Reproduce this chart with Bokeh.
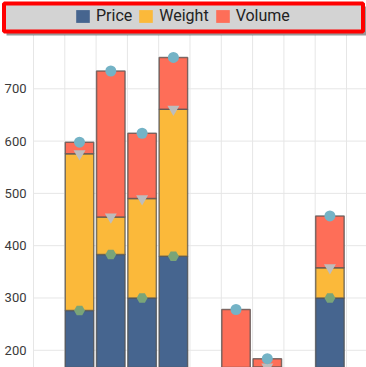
from bokeh.plotting import figure
from bokeh.models import (ColumnDataSource, Range1d, Legend, LegendItem, BoxAnnotation)
from bokeh.embed import file_html
from bokeh.resources import INLINE
from bokeh.core.properties import value

# ---- data ----
series = ["Price", "Weight", "Volume"]
slots = [1, 2, 3, 4, 6, 7, 9]
price = [276, 383, 300, 380, 80, 100, 300]
weight = [300, 72, 190, 281, 70, 68, 58]
volume = [22, 279, 125, 99, 128, 16, 99]
yticks = [200, 300, 400, 500, 600, 700]
xgrid = list(range(11))

colors = ["#46658f", "#fbb93a", "#fe6e58"]
FONT = "Roboto"

W, H = 366, 367
X0, X1 = -1.054, 10.639
Y0, Y1 = 167.1, 868.8
YTOP = 803  # top of the plotting area (below the legend strip)

xc = [s + 0.47 for s in slots]
top_p = price
top_w = [a + b for a, b in zip(price, weight)]
top_v = [a + b + c for a, b, c in zip(price, weight, volume)]
src = ColumnDataSource(dict(x=xc, Price=price, Weight=weight, Volume=volume,
                            tp=top_p, tw=top_w, tv=top_v))

p = figure(width=W, height=H, output_backend="svg", toolbar_location=None,
           x_range=Range1d(X0, X1), y_range=Range1d(Y0, Y1),
           x_axis_type=None, y_axis_type=None, min_border=0,
           outline_line_color=None)
p.grid.visible = False

# grid lines
p.segment(x0=[0] * len(yticks), x1=[X1] * len(yticks), y0=yticks, y1=yticks,
          line_color="#e6e6e6", line_width=1)
p.segment(x0=xgrid, x1=xgrid, y0=[Y0] * len(xgrid), y1=[YTOP] * len(xgrid),
          line_color="#e6e6e6", line_width=1)

# y tick labels
p.text(x=[0] * len(yticks), y=yticks, text=[str(t) for t in yticks],
       x_offset=-7, text_align="right", text_baseline="middle",
       text_font=value(FONT), text_font_size="13px", text_color="#3a3a3a")

# swatch renderers for the legend (no outline; fully covered by the real bars)
sw = p.vbar_stack(series, x="x", width=0.91, source=src, color=colors,
                  line_color=None)

rs = p.vbar_stack(series, x="x", width=0.91, source=src, color=colors,
                  line_color="#555555", line_alpha=0.75, line_width=1.5)

p.scatter(x="x", y="tp", source=src, marker="hex", size=11,
          fill_color="#7aa478", line_color=None)
p.scatter(x="x", y="tw", source=src, marker="inverted_triangle", size=12,
          fill_color="#bdbdbd", line_color=None)
p.scatter(x="x", y="tv", source=src, marker="circle", size=11,
          fill_color="#74b3c6", line_color=None)

# legend strip
shadow = BoxAnnotation(left=6, right=366, top=6, bottom=35,
                       left_units="canvas", right_units="canvas",
                       top_units="canvas", bottom_units="canvas",
                       fill_color="#000000", fill_alpha=0.4, line_color=None)
strip = BoxAnnotation(left=3.5, right=362.5, top=3, bottom=31,
                      left_units="canvas", right_units="canvas",
                      top_units="canvas", bottom_units="canvas",
                      fill_color="#d3d3d3", fill_alpha=1.0,
                      line_color="#ff0000", line_width=4, line_alpha=1.0)
p.add_layout(shadow)
p.add_layout(strip)

items = [LegendItem(label=n, renderers=[r]) for n, r in zip(series, sw)]
legend = Legend(items=items, orientation="horizontal", location=(74, 342),
                background_fill_alpha=0, border_line_alpha=0,
                glyph_width=17, glyph_height=16, label_standoff=5, spacing=5,
                label_text_font=FONT, label_text_font_size="16px",
                label_text_color="#222222", padding=0, margin=0)
p.add_layout(legend, "center")

open("out.html", "w").write(file_html(p, INLINE))
